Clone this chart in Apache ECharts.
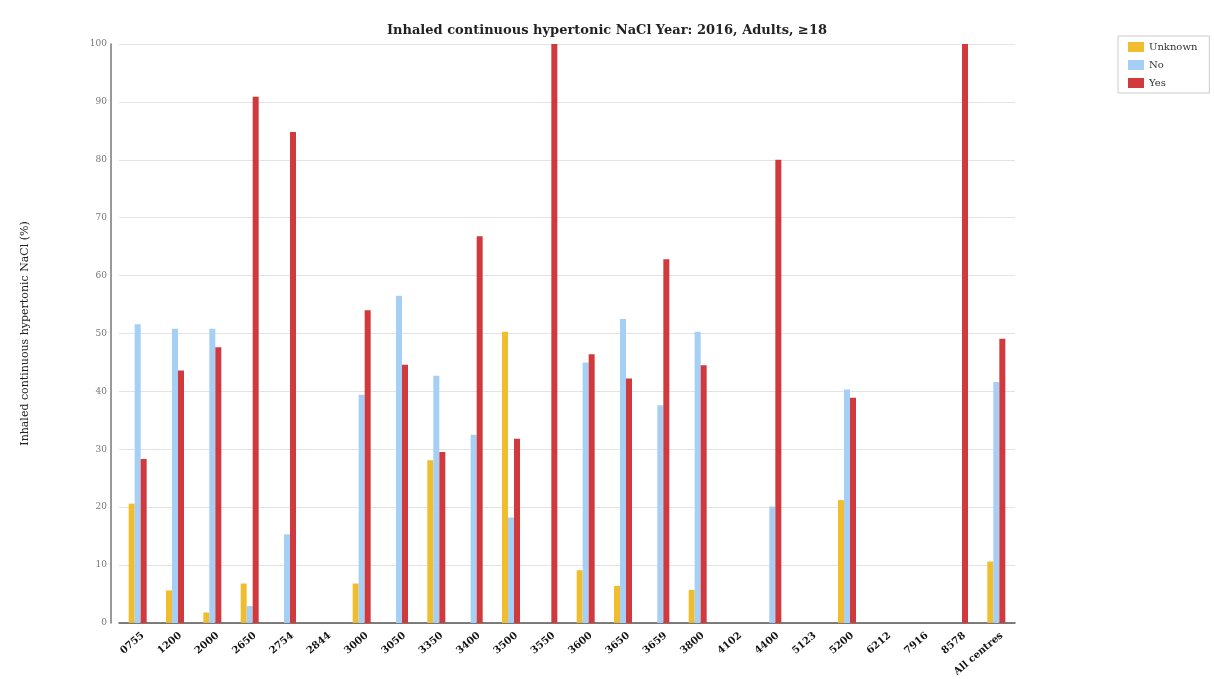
<!DOCTYPE html>
<html>
<head>
<meta charset="utf-8">
<script src="https://cdn.jsdelivr.net/npm/echarts@6/dist/echarts.min.js"></script>
<style>
html,body{margin:0;padding:0;background:#fff;}
#main{width:1214px;height:679px;}
</style>
</head>
<body>
<div id="main"></div>
<script>
var categories = ['0755','1200','2000','2650','2754','2844','3000','3050','3350','3400','3500','3550','3600','3650','3659','3800','4102','4400','5123','5200','6212','7916','8578','All centres'];
var unknownValues = [20.6, 5.6, 1.8, 6.8, null, null, 6.8, null, 28.1, null, 50.3, null, 9.1, 6.4, null, 5.7, null, null, null, 21.2, null, null, null, 10.6];
var noValues      = [51.6, 50.8, 50.8, 2.9, 15.3, null, 39.4, 56.5, 42.7, 32.5, 18.2, null, 45.0, 52.5, 37.6, 50.3, null, 20.1, null, 40.3, null, null, null, 41.6];
var yesValues     = [28.3, 43.6, 47.6, 90.9, 84.8, null, 54.0, 44.6, 29.5, 66.8, 31.8, 100, 46.4, 42.2, 62.8, 44.5, null, 80.0, null, 38.9, null, null, 100, 49.1];
var yTicks = [0,10,20,30,40,50,60,70,80,90,100];

var serif = '"DejaVu Serif", "Liberation Serif", serif';
var chart = echarts.init(document.getElementById('main'));
chart.setOption({
  animation: false,
  backgroundColor: '#fff',
  title: {
    text: 'Inhaled continuous hypertonic NaCl Year: 2016, Adults, \u226518',
    left: 'center', top: 19,
    textStyle: {fontFamily: serif, fontSize: 13, fontWeight: 'bold', color: '#222'}
  },
  legend: {
    orient: 'vertical', left: 1118, top: 36,
    padding: [6, 12, 5, 10],
    borderColor: '#ccc', borderWidth: 1,
    itemWidth: 16, itemHeight: 10, itemGap: 8,
    icon: 'rect',
    textStyle: {fontFamily: serif, fontSize: 10, color: '#333'},
    data: ['Unknown','No','Yes']
  },
  grid: {left: 119, right: 199, top: 44, bottom: 51},
  xAxis: {
    type: 'category', data: categories,
    axisLine: {lineStyle: {color: '#555', width: 1.5}},
    axisTick: {show: false},
    axisLabel: {rotate: 40, interval: 0, fontFamily: serif, fontSize: 10, fontWeight: 'bold', color: '#111', margin: 16, padding: [0, -7, 0, 0]}
  },
  yAxis: {
    type: 'value', min: 0, max: 100, interval: 10, offset: 8,
    name: 'Inhaled continuous hypertonic NaCl (%)',
    nameLocation: 'middle', nameGap: 80, nameRotate: 90,
    nameTextStyle: {fontFamily: serif, fontSize: 11, color: '#222'},
    axisLine: {show: true, lineStyle: {color: '#777', width: 1.5}},
    axisTick: {show: false},
    axisLabel: {fontFamily: serif, fontSize: 9, color: '#777', margin: 4,
      formatter: function(v){ return yTicks.indexOf(v) >= 0 ? String(v) : ''; }},
    splitLine: {lineStyle: {color: '#e3e3e3'}}
  },
  series: [
    {name: 'Unknown', type: 'bar', data: unknownValues, barWidth: 6, barGap: '0%', itemStyle: {color: '#f0bd2e'}},
    {name: 'No', type: 'bar', data: noValues, barWidth: 6, barGap: '0%', itemStyle: {color: '#a5cff5'}},
    {name: 'Yes', type: 'bar', data: yesValues, barWidth: 6, barGap: '0%', itemStyle: {color: '#d2393d'}}
  ]
});
</script>
</body>
</html>
